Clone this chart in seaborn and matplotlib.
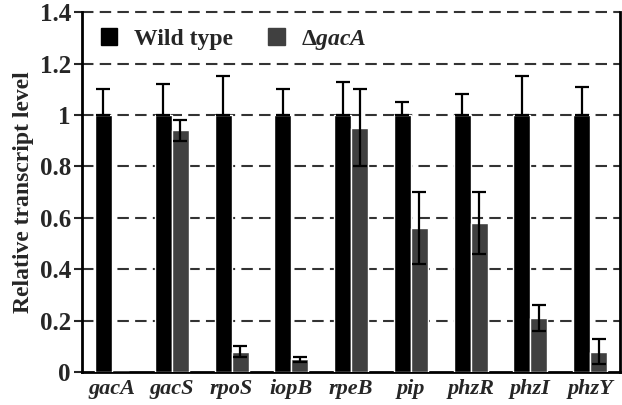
import matplotlib
matplotlib.use("Agg")
import matplotlib.pyplot as plt
import seaborn as sns
import pandas as pd
import numpy as np
from matplotlib.patches import Patch

genes = ["gacA", "gacS", "rpoS", "iopB", "rpeB", "pip", "phzR", "phzI", "phzY"]
wt_values = [1.0, 1.0, 1.0, 1.0, 1.0, 1.0, 1.0, 1.0, 1.0]
wt_errors = [0.10, 0.12, 0.15, 0.10, 0.13, 0.05, 0.08, 0.15, 0.11]
mut_values = [0.0, 0.94, 0.08, 0.05, 0.95, 0.56, 0.58, 0.21, 0.08]
mut_errors = [0.0, 0.04, 0.02, 0.01, 0.15, 0.14, 0.12, 0.05, 0.05]
series = ["Wild type", "ΔgacA"]
yticks = [0, 0.2, 0.4, 0.6, 0.8, 1.0, 1.2, 1.4]
ytick_labels = ["0", "0.2", "0.4", "0.6", "0.8", "1", "1.2", "1.4"]

sns.set_style("white")
plt.rcParams["font.family"] = ["Liberation Serif", "DejaVu Serif"]
plt.rcParams["mathtext.fontset"] = "custom"
plt.rcParams["mathtext.rm"] = "Liberation Serif:bold"
plt.rcParams["mathtext.bf"] = "Liberation Serif:bold"
plt.rcParams["mathtext.it"] = "Liberation Serif:italic:bold"
plt.rcParams["mathtext.bfit"] = "Liberation Serif:italic:bold"

df = pd.DataFrame({
    "gene": genes * 2,
    "value": wt_values + mut_values,
    "strain": [series[0]] * len(genes) + [series[1]] * len(genes),
})

fig = plt.figure(figsize=(6.22, 4.05), dpi=100)
ax = fig.add_axes([0.132, 0.081, 0.865, 0.889])

colors = ["#000000", "#404040"]
sns.barplot(data=df, x="gene", y="value", hue="strain", order=genes,
            hue_order=series, palette=colors, width=0.57, gap=0,
            errorbar=None, ax=ax, legend=False, saturation=1, zorder=3)

errs = [wt_errors, mut_errors]
bar_containers = list(ax.containers)
for ci, cont in enumerate(bar_containers):
    xs = np.array([p.get_x() + p.get_width() / 2 for p in cont.patches])
    hs = np.array([p.get_height() for p in cont.patches])
    e = np.array(errs[ci])
    lower = np.zeros_like(e) if ci == 0 else e
    mask = e > 0
    ax.errorbar(xs[mask], hs[mask], yerr=[lower[mask], e[mask]], fmt="none",
                ecolor="black", elinewidth=1.6, capsize=5, capthick=1.6,
                zorder=4)

ax.set_ylim(0, 1.4)
ax.set_xlim(-0.5, len(genes) - 0.5)
ax.set_yticks(yticks)
ax.set_yticklabels(ytick_labels, fontsize=18, fontweight="bold")
ax.set_xticks(range(len(genes)))
ax.set_xticklabels(genes, fontsize=16, fontweight="bold", fontstyle="italic")
ax.set_xlabel("")
ax.set_ylabel("Relative transcript level", fontsize=17, fontweight="bold",
              labelpad=4)

for y in yticks[1:]:
    ax.axhline(y, color="#333333", linewidth=1.5, linestyle=(0, (5.5, 3)),
               zorder=1, clip_on=False)

for s in ["left", "bottom", "right"]:
    ax.spines[s].set_visible(True)
    ax.spines[s].set_color("black")
    ax.spines[s].set_linewidth(2)
ax.spines["top"].set_visible(False)

ax.tick_params(axis="y", direction="out", length=6, width=1.5, left=True, pad=2)
ax.tick_params(axis="x", length=0, pad=5)

handles = [Patch(facecolor=colors[0], edgecolor=colors[0]),
           Patch(facecolor=colors[1], edgecolor=colors[1])]
labels = ["Wild type", r"$\Delta\mathbfit{gacA}$"]
leg = ax.legend(handles, labels, ncol=2, frameon=False, loc="upper left",
                bbox_to_anchor=(-0.005, 1.015), prop={"size": 17, "weight": "bold"},
                handlelength=0.7, handleheight=0.7, handletextpad=0.7,
                columnspacing=1.5)

fig.savefig("out.png", dpi=100)
